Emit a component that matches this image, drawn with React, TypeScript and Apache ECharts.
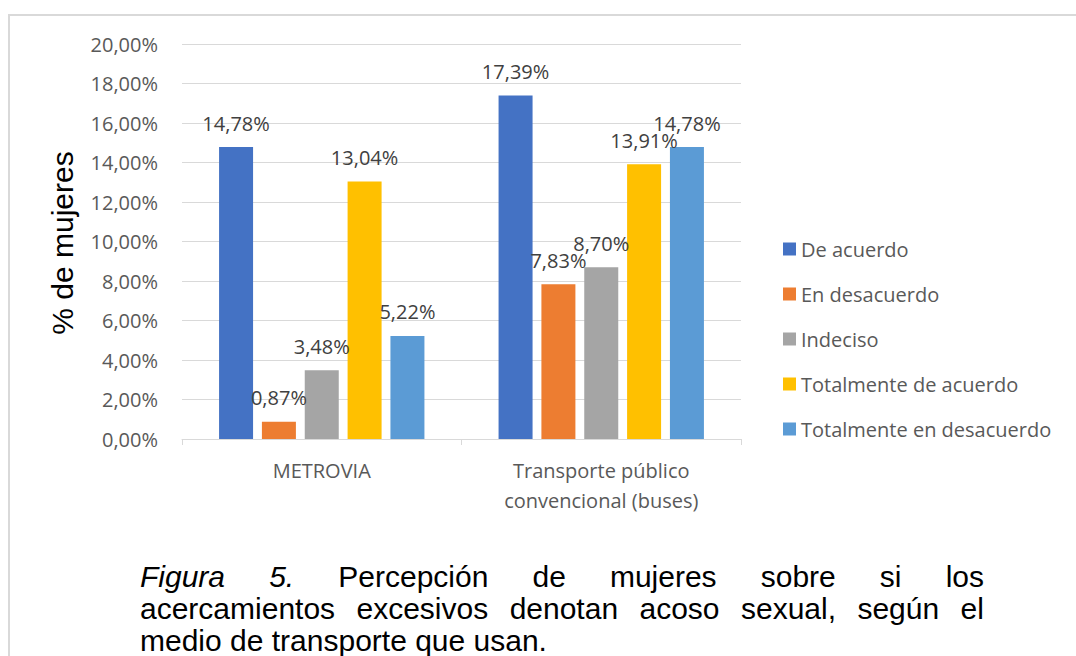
import React, { useEffect, useRef } from "react";
import * as echarts from "echarts";

const categories = ["METROVIA", "Transporte público\nconvencional (buses)"];
const seriesNames = [
  "De acuerdo",
  "En desacuerdo",
  "Indeciso",
  "Totalmente de acuerdo",
  "Totalmente en desacuerdo",
];
const deAcuerdo = [14.78, 17.39];
const enDesacuerdo = [0.87, 7.83];
const indeciso = [3.48, 8.7];
const totalmenteDeAcuerdo = [13.04, 13.91];
const totalmenteEnDesacuerdo = [5.22, 14.78];
const seriesValues = [deAcuerdo, enDesacuerdo, indeciso, totalmenteDeAcuerdo, totalmenteEnDesacuerdo];
const colors = ["#4472C4", "#ED7D31", "#A5A5A5", "#FFC000", "#5B9BD5"];

const yAxisName = "% de mujeres";
const captionLine1 = ["Figura 5.", " Percepción de mujeres sobre si los"];
const captionLine2 = "acercamientos excesivos denotan acoso sexual, según el";
const captionLine3 = "medio de transporte que usan.";

const fmt = (v: number) => v.toFixed(2).replace(".", ",") + "%";
const FONT = "'Open Sans', sans-serif";

export default function App() {
  const ref = useRef<HTMLDivElement>(null);
  useEffect(() => {
    document.body.style.margin = "0";
    const chart = echarts.init(ref.current!, null, { renderer: "svg" });
    chart.setOption({
      animation: false,
      backgroundColor: "#fff",
      textStyle: { fontFamily: FONT },
      grid: { left: 182, right: 335, top: 44, bottom: 217 },
      legend: {
        orient: "vertical",
        left: 783,
        top: 239,
        padding: 0,
        itemWidth: 13,
        itemHeight: 13,
        itemGap: 25,
        itemTextGap: 6,
        icon: "rect",
        data: seriesNames,
        textStyle: { fontSize: 20, color: "#595959", fontFamily: FONT, lineHeight: 20 },
      },
      xAxis: {
        type: "category",
        data: categories,
        axisLine: { lineStyle: { color: "#d9d9d9", width: 1 } },
        axisTick: { show: true, length: 6, lineStyle: { color: "#d9d9d9" } },
        axisLabel: { fontSize: 20, color: "#595959", lineHeight: 30, margin: 16, fontFamily: FONT },
      },
      yAxis: {
        type: "value",
        min: 0,
        max: 20,
        interval: 2,
        axisLine: { show: false },
        axisTick: { show: false },
        axisLabel: { fontSize: 20, color: "#595959", margin: 24, formatter: fmt, fontFamily: FONT },
        splitLine: { lineStyle: { color: "#d9d9d9", width: 1 } },
      },
      series: seriesNames.map((name, i) => ({
        name,
        type: "bar",
        data: seriesValues[i],
        barWidth: 34,
        barGap: "26%",
        itemStyle: { color: colors[i] },
        label: {
          show: true,
          position: "top",
          distance: 14,
          fontSize: 20,
          color: "#404040",
          fontFamily: FONT,
          formatter: (p: any) => fmt(p.value),
        },
      })),
      graphic: [
        {
          type: "text",
          x: 62,
          y: 243,
          rotation: Math.PI / 2,
          style: {
            text: yAxisName,
            fontSize: 30,
            fontFamily: "'Liberation Sans', Arial, sans-serif",
            fill: "#000",
            align: "center",
            verticalAlign: "middle",
          },
        },
      ],
    });
    return () => chart.dispose();
  }, []);

  const capStyle: React.CSSProperties = {
    position: "absolute",
    left: 140,
    width: 844,
    fontFamily: "'Liberation Sans', Arial, sans-serif",
    fontSize: 30,
    lineHeight: "32px",
    color: "#000",
    whiteSpace: "nowrap",
  };

  return (
    <div style={{ position: "fixed", left: 0, top: 0, width: 1076, height: 656, overflow: "hidden", background: "#fff" }}>
      <div ref={ref} style={{ position: "absolute", left: 0, top: 0, width: 1076, height: 656 }} />
      <div
        style={{
          position: "absolute",
          left: 8,
          top: 14,
          width: 1200,
          height: 800,
          borderLeft: "2px solid #d9d9d9",
          borderTop: "2px solid #d9d9d9",
          pointerEvents: "none",
        }}
      />
      <div style={{ ...capStyle, top: 561, display: "flex", justifyContent: "space-between" }}>
        {(captionLine1[0] + captionLine1[1]).split(" ").map((w, i) => (
          <span key={i} style={{ fontStyle: i < 2 ? "italic" : "normal" }}>{w}</span>
        ))}
      </div>
      <div style={{ ...capStyle, top: 593, display: "flex", justifyContent: "space-between" }}>
        {captionLine2.split(" ").map((w, i) => (
          <span key={i}>{w}</span>
        ))}
      </div>
      <div style={{ ...capStyle, top: 625 }}>{captionLine3}</div>
    </div>
  );
}
